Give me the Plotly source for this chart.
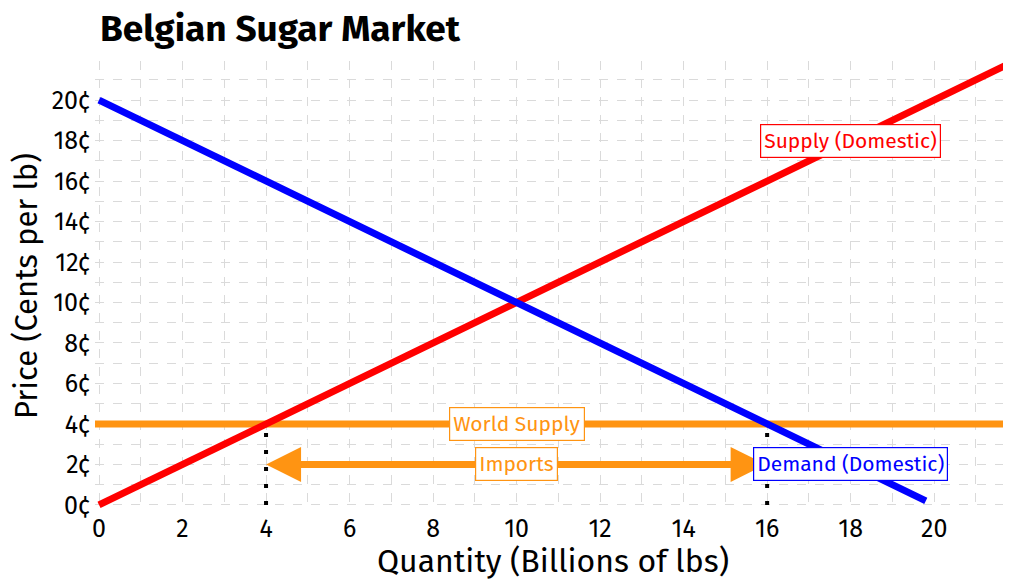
import plotly.graph_objects as go

# Data
supply_q = [0, 22]
supply_p = [0, 22]
demand_q = [0, 19.8]
demand_p = [20, 0.2]
world_p = 4
world_q = [-0.1, 22]
imports_from = 16
imports_to = 4
imports_p = 2
dotted_q = [4, 16]
dotted_p = [0, 4]
x_ticks = list(range(0, 21, 2))
y_ticks = list(range(0, 21, 2))
y_ticklabels = [f"{v}¢" for v in y_ticks]

FONT = "Fira Sans, Lato, sans-serif"
ORANGE = "#FF9412"
L, R, T, B = 87, 0, 53, 69
W, H = 1003, 572
PW, PH = W - L - R, H - T - B

fig = go.Figure()

fig.add_trace(go.Scatter(x=world_q, y=[world_p, world_p], mode="lines",
                         line=dict(color=ORANGE, width=7), hoverinfo="skip"))
for q in dotted_q:
    fig.add_trace(go.Scatter(x=[q, q], y=dotted_p, mode="lines",
                             line=dict(color="black", width=4, dash="4px,13px"), hoverinfo="skip"))
fig.add_trace(go.Scatter(x=supply_q, y=supply_p, mode="lines",
                         line=dict(color="#FF0000", width=7), hoverinfo="skip"))
fig.add_trace(go.Scatter(x=demand_q, y=demand_p, mode="lines",
                         line=dict(color="#0000FF", width=7), hoverinfo="skip"))

# Imports double arrow
fig.add_annotation(x=imports_to, y=imports_p, ax=imports_from, ay=imports_p,
                   xref="x", yref="y", axref="x", ayref="y",
                   showarrow=True, arrowhead=2, arrowside="end+start",
                   arrowsize=1.0, arrowwidth=7, arrowcolor=ORANGE, text="")

def label(x, y, text, color):
    fig.add_annotation(x=x, y=y, xref="x", yref="y", text=text, showarrow=False,
                       font=dict(family=FONT, size=21, color=color),
                       bgcolor="white", bordercolor=color, borderwidth=1.2, borderpad=3)

label(18, 18, "Supply (Domestic)", "#FF0000")
label(18, 2, "Demand (Domestic)", "#0000FF")
label(10, 4, "World Supply", ORANGE)
label(10, 2, "Imports", ORANGE)

# Title as a paper annotation
fig.add_annotation(text="<b>Belgian Sugar Market</b>", xref="paper", yref="paper",
                   x=(91 - L) / PW, xanchor="left", y=1 + (T - 20) / PH, yanchor="middle",
                   showarrow=False, borderpad=0,
                   font=dict(family=FONT, size=37, color="black"))

grid = dict(showgrid=True, gridcolor="#dadada", gridwidth=1, griddash="dash",
            zeroline=False, showline=False, ticks="", automargin=False,
            tickfont=dict(family=FONT, size=25, color="black"),
            minor=dict(dtick=1, showgrid=True, gridcolor="#dadada", gridwidth=1, griddash="dash"))

fig.update_xaxes(range=[-0.096, 21.84], tickvals=x_ticks, ticklabelstandoff=0,
                 title=dict(text="Quantity (Billions of lbs)", font=dict(family=FONT, size=32, color="black"), standoff=2),
                 **grid)
fig.update_yaxes(range=[-0.3, 21.93], tickvals=y_ticks, ticktext=y_ticklabels, ticklabelstandoff=4,
                 title=dict(text="Price (Cents per lb)", font=dict(family=FONT, size=31, color="black"), standoff=10),
                 **grid)

fig.update_layout(
    width=W, height=H,
    margin=dict(l=L, r=R, t=T, b=B),
    paper_bgcolor="white", plot_bgcolor="white",
    showlegend=False,
)

fig.write_html("out.html")
